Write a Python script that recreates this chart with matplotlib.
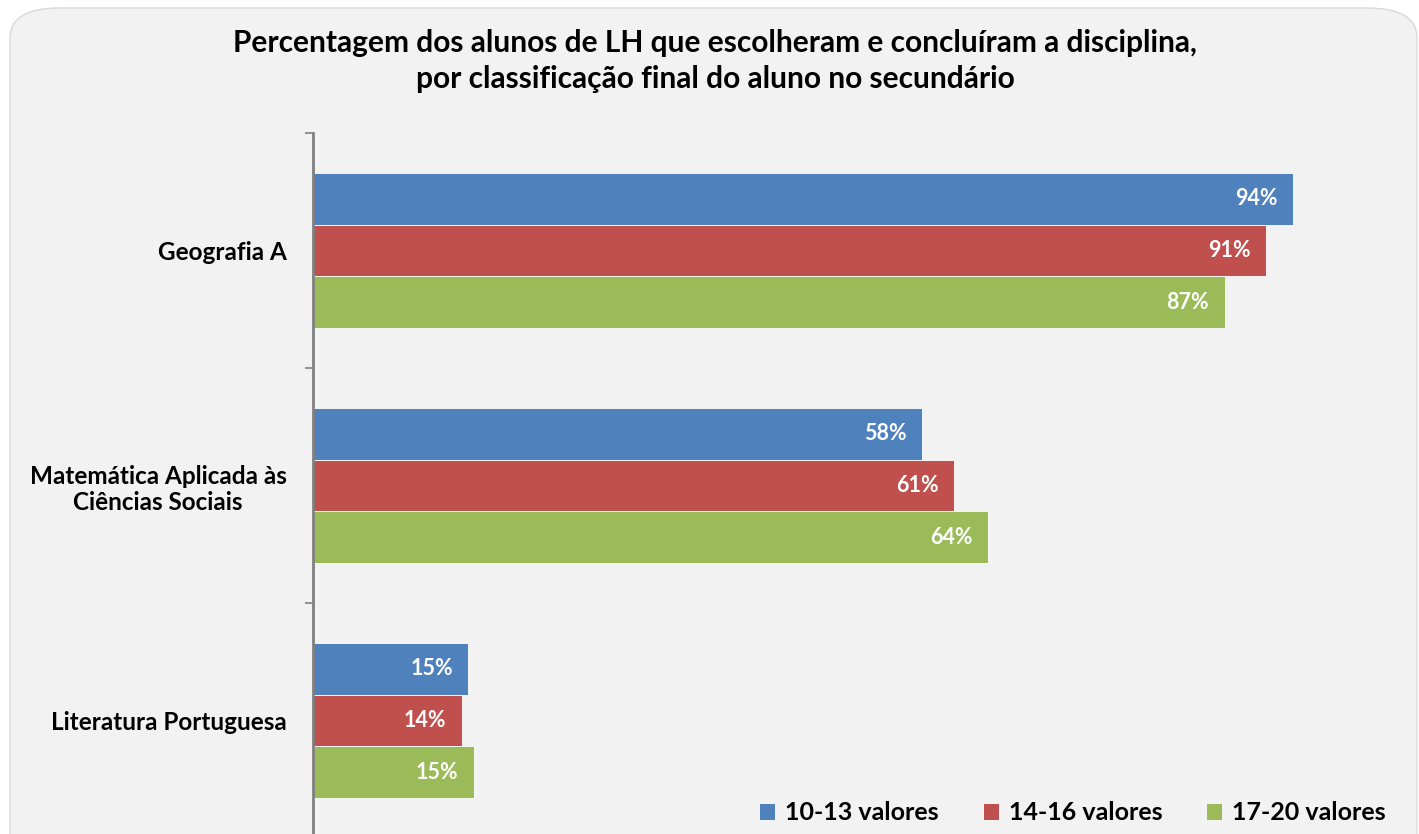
import matplotlib.pyplot as plt
from matplotlib.patches import FancyBboxPatch, Patch

# Dados
categorias = ["Geografia A", "Matemática Aplicada às\nCiências Sociais", "Literatura Portuguesa"]
series = ["10-13 valores", "14-16 valores", "17-20 valores"]
valores_10_13 = [94.0, 58.4, 14.9]
valores_14_16 = [91.4, 61.5, 14.3]
valores_17_20 = [87.4, 64.7, 15.4]
rotulos_10_13 = ["94%", "58%", "15%"]
rotulos_14_16 = ["91%", "61%", "14%"]
rotulos_17_20 = ["87%", "64%", "15%"]
cores = ["#4F81BD", "#C0504D", "#9BBB59"]

plt.rcParams['font.family'] = ['Lato', 'DejaVu Sans']

W, H = 1419, 834
fig = plt.figure(figsize=(W / 100, H / 100), dpi=100)
fig.patch.set_facecolor("white")

# Fundo cinzento arredondado
fundo = FancyBboxPatch((10 / W, -0.05), (W - 12) / W, 1 - 8 / H + 0.05,
                       boxstyle="round,pad=0,rounding_size=0.035",
                       transform=fig.transFigure, facecolor="#F2F2F2",
                       edgecolor="#D9D9D9", linewidth=1, mutation_aspect=W / H * 0.6,
                       zorder=-5)
fig.patches.append(fundo)

fig.text(715 / W, 1 - 43 / H, "Percentagem dos alunos de LH que escolheram e concluíram a disciplina,",
         ha="center", va="center", fontsize=21.5, fontweight="bold")
fig.text(715 / W, 1 - 79 / H, "por classificação final do aluno no secundário",
         ha="center", va="center", fontsize=21.5, fontweight="bold")

ax = fig.add_axes([313 / W, -4 / H, 1043 / W, 705 / H])
ax.set_facecolor("none")
ax.set_zorder(2)

dados = [valores_10_13, valores_14_16, valores_17_20]
rotulos = [rotulos_10_13, rotulos_14_16, rotulos_17_20]
n = len(categorias)
h = 0.22
for s in range(3):
    ys = [n - 1 - i + 0.5 + (1 - s) * h for i in range(n)]
    ax.barh(ys, dados[s], height=h, color=cores[s], edgecolor="white", linewidth=0.6)
    for y, v, r in zip(ys, dados[s], rotulos[s]):
        ax.text(v - 1.5, y, r, ha="right", va="center", color="white",
                fontsize=15.5, fontweight="bold")

ax.set_xlim(0, 100)
ax.set_ylim(0, n)
ax.set_yticks(range(n + 1))
ax.set_yticklabels([])
ax.set_yticks([i + 0.5 for i in range(n)], minor=True)
ax.set_yticklabels(categorias[::-1], minor=True, fontsize=17.5, fontweight="bold", ha="right")
ax.tick_params(axis="y", which="minor", length=0, pad=19)
ax.tick_params(axis="y", which="major", length=6, width=1.2, color="#808080", direction="out")
ax.set_xticks([])
for lado in ["top", "right", "bottom"]:
    ax.spines[lado].set_visible(False)
ax.spines["left"].set_color("#808080")
ax.spines["left"].set_linewidth(2)

for lbl in ax.get_yticklabels(minor=True):
    lbl.set_multialignment("center")

handles = [Patch(facecolor=c) for c in cores]
fig.legend(handles, series, loc="center", bbox_to_anchor=(1073 / W, 1 - 813 / H), ncol=3,
           frameon=False, prop={"size": 18, "weight": "bold"}, handlelength=0.6,
           handleheight=0.6, handletextpad=0.4, columnspacing=1.8)

fig.savefig("out.png", dpi=100)
